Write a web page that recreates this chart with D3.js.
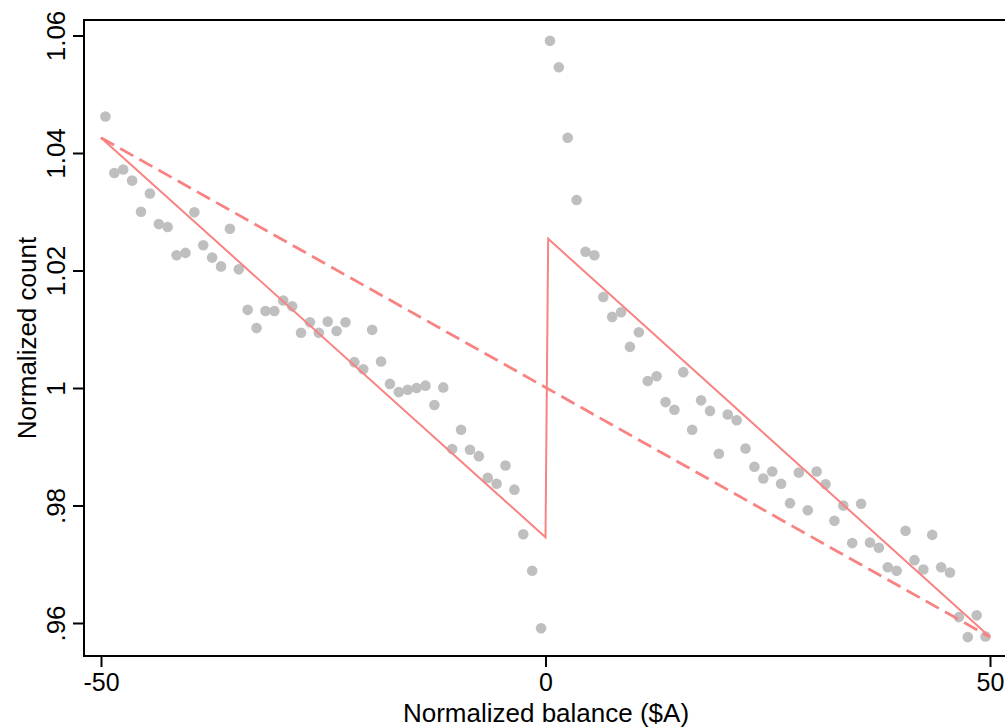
<!DOCTYPE html>
<html>
<head>
<meta charset="utf-8">
<script src="https://cdn.jsdelivr.net/npm/d3@7"></script>
<style>
  body { margin: 0; background: #fff; }
  svg { display: block; }
  text { font-family: "Liberation Sans", Arial, Helvetica, sans-serif; fill: #000; }
</style>
</head>
<body>
<svg id="chart" width="1005" height="727"></svg>
<script>
// Bin centres of the normalized balance ($A), one bin per dollar
const binCenters = [
  -49.5, -48.5, -47.5, -46.5, -45.5, -44.5, -43.5, -42.5, -41.5, -40.5,
  -39.5, -38.5, -37.5, -36.5, -35.5, -34.5, -33.5, -32.5, -31.5, -30.5,
  -29.5, -28.5, -27.5, -26.5, -25.5, -24.5, -23.5, -22.5, -21.5, -20.5,
  -19.5, -18.5, -17.5, -16.5, -15.5, -14.5, -13.5, -12.5, -11.5, -10.5,
  -9.5, -8.5, -7.5, -6.5, -5.5, -4.5, -3.5, -2.5, -1.5, -0.5,
  0.5, 1.5, 2.5, 3.5, 4.5, 5.5, 6.5, 7.5, 8.5, 9.5,
  10.5, 11.5, 12.5, 13.5, 14.5, 15.5, 16.5, 17.5, 18.5, 19.5,
  20.5, 21.5, 22.5, 23.5, 24.5, 25.5, 26.5, 27.5, 28.5, 29.5,
  30.5, 31.5, 32.5, 33.5, 34.5, 35.5, 36.5, 37.5, 38.5, 39.5,
  40.5, 41.5, 42.5, 43.5, 44.5, 45.5, 46.5, 47.5, 48.5, 49.5
];

// Normalized counts, below zero balance
const countsBelow = [
  1.0462, 1.0366, 1.0372, 1.0353, 1.0300, 1.0331, 1.0279, 1.0274, 1.0226, 1.0230,
  1.0299, 1.0243, 1.0222, 1.0207, 1.0271, 1.0202, 1.0133, 1.0102, 1.0131, 1.0131,
  1.0149, 1.0139, 1.0094, 1.0112, 1.0094, 1.0113, 1.0097, 1.0112, 1.0044, 1.0032,
  1.0099, 1.0045, 1.0007, 0.9993, 0.9997, 1.0000, 1.0004, 0.9971, 1.0001, 0.9896,
  0.9929, 0.9895, 0.9884, 0.9847, 0.9837, 0.9868, 0.9827, 0.9751, 0.9689, 0.9591
];

// Normalized counts, above zero balance
const countsAbove = [
  1.0591, 1.0546, 1.0426, 1.0320, 1.0232, 1.0226, 1.0155, 1.0121, 1.0129, 1.0070,
  1.0095, 1.0012, 1.0020, 0.9976, 0.9963, 1.0027, 0.9929, 0.9979, 0.9961, 0.9888,
  0.9955, 0.9945, 0.9897, 0.9866, 0.9846, 0.9858, 0.9837, 0.9804, 0.9856, 0.9792,
  0.9858, 0.9836, 0.9774, 0.9800, 0.9736, 0.9803, 0.9737, 0.9728, 0.9695, 0.9689,
  0.9757, 0.9707, 0.9691, 0.9750, 0.9695, 0.9686, 0.9610, 0.9576, 0.9613, 0.9577
];

// Fitted line with a jump at zero (solid)
const jumpFitX = [-50, 0, 0.3, 50];
const jumpFitY = [1.0426, 0.9746, 1.0254, 0.9576];

// Fitted line without a jump (dashed)
const plainFitX = [-50, 50];
const plainFitY = [1.0426, 0.9576];

// Axis ticks
const xTickValues = [-50, 0, 50];
const xTickLabels = ["-50", "0", "50"];
const yTickValues = [1.06, 1.04, 1.02, 1.00, 0.98, 0.96];
const yTickLabels = ["1.06", "1.04", "1.02", "1", ".98", ".96"];

const counts = countsBelow.concat(countsAbove);

const svg = d3.select("#chart");
const box = { left: 84, top: 20, right: 1008, bottom: 656 };

const x = d3.scaleLinear().domain([-50, 50]).range([101, 990]);
const y = d3.scaleLinear().domain([0.96, 1.06]).range([623, 35.5]);

const lineColor = "#f98282";
const dotColor = "#bfbfbf";

// Scatter of binned counts
svg.append("g")
  .selectAll("circle")
  .data(binCenters)
  .join("circle")
  .attr("cx", d => x(d))
  .attr("cy", (d, i) => y(counts[i]))
  .attr("r", 5.3)
  .attr("fill", dotColor);

const line = d3.line().x(d => x(d[0])).y(d => y(d[1]));

// Dashed fit
svg.append("path")
  .datum(plainFitX.map((v, i) => [v, plainFitY[i]]))
  .attr("d", line)
  .attr("fill", "none")
  .attr("stroke", lineColor)
  .attr("stroke-width", 2.8)
  .attr("stroke-dasharray", "15,7");

// Solid fit with discontinuity
svg.append("path")
  .datum(jumpFitX.map((v, i) => [v, jumpFitY[i]]))
  .attr("d", line)
  .attr("fill", "none")
  .attr("stroke", lineColor)
  .attr("stroke-width", 2)
  .attr("stroke-linejoin", "miter");

// Plot frame
svg.append("path")
  .attr("d", `M${box.right},${box.top}H${box.left}V${box.bottom}H${box.right}`)
  .attr("fill", "none")
  .attr("stroke", "#000")
  .attr("stroke-width", 2);

// X axis
const xAxis = d3.axisBottom(x)
  .tickValues(xTickValues)
  .tickFormat((d, i) => xTickLabels[i])
  .tickSize(11);
const gx = svg.append("g")
  .attr("transform", `translate(0,${box.bottom})`)
  .call(xAxis);
gx.select(".domain").remove();
gx.selectAll(".tick line").attr("stroke", "#000").attr("stroke-width", 2);
gx.selectAll(".tick text")
  .attr("font-size", 25)
  .attr("dy", null)
  .attr("y", 35)
  .style("font-family", "'Liberation Sans', Arial, sans-serif");

// Y axis, labels set vertically
const yAxis = d3.axisLeft(y)
  .tickValues(yTickValues)
  .tickFormat((d, i) => yTickLabels[i])
  .tickSize(11);
const gy = svg.append("g")
  .attr("transform", `translate(${box.left},0)`)
  .call(yAxis);
gy.select(".domain").remove();
gy.selectAll(".tick line").attr("stroke", "#000").attr("stroke-width", 2);
gy.selectAll(".tick text")
  .attr("font-size", 26)
  .attr("x", null)
  .attr("dy", null)
  .attr("text-anchor", "middle")
  .attr("transform", "translate(-19,0) rotate(-90)")
  .style("font-family", "'Liberation Sans', Arial, sans-serif");

// Axis titles
svg.append("text")
  .attr("x", (box.left + box.right) / 2)
  .attr("y", 722)
  .attr("text-anchor", "middle")
  .attr("font-size", 26)
  .text("Normalized balance ($A)");

svg.append("text")
  .attr("transform", `translate(36,${(box.top + box.bottom) / 2}) rotate(-90)`)
  .attr("text-anchor", "middle")
  .attr("font-size", 26)
  .text("Normalized count");
</script>
</body>
</html>
